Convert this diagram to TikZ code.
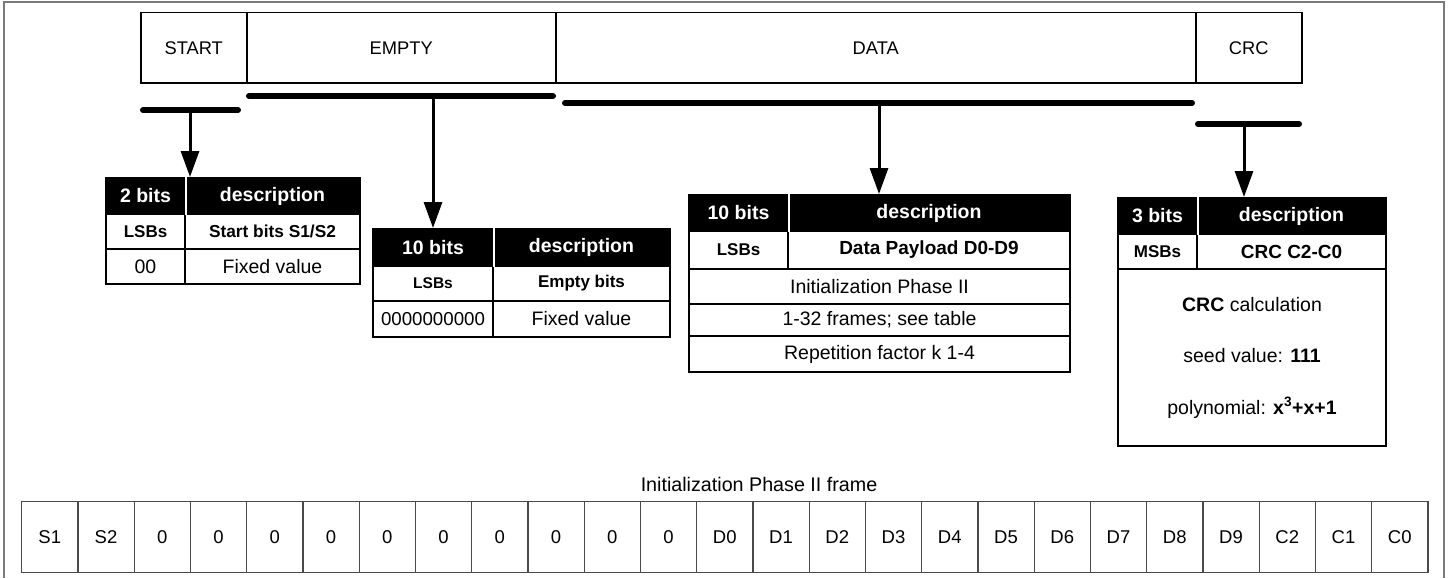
\documentclass[tikz,border=0pt]{standalone}
\usepackage{fontspec}
\setmainfont{Liberation Sans}
\usepackage{tikz}
\usetikzlibrary{arrows.meta}
\definecolor{framegray}{HTML}{7A7A7A}
\definecolor{cellgray}{HTML}{4A4A4A}
\tikzstyle{field}=[draw, line width=1.5pt, minimum height=70pt, inner sep=0pt, anchor=north west, font=\fontsize{18.3}{20}\selectfont]
\tikzstyle{bar}=[line width=6pt, line cap=round]
\tikzstyle{pointer}=[line width=3pt, -{Triangle[length=26pt,width=18pt]}]
\tikzstyle{headcell}=[fill=black, draw=black, text=white, line width=2pt, inner sep=0pt, anchor=north west, font=\fontsize{19.5}{21}\selectfont\bfseries]
\tikzstyle{keycell}=[draw, line width=2pt, inner sep=0pt, anchor=north west, font=\fontsize{17}{19}\selectfont\bfseries]
\tikzstyle{bodycell}=[draw, line width=2pt, inner sep=0pt, anchor=north west, font=\fontsize{19.5}{21}\selectfont]
\tikzstyle{bitcell}=[draw=cellgray, line width=1.3pt, minimum width=56.25pt, minimum height=71pt, inner sep=0pt, anchor=north west, font=\fontsize{18.5}{20}\selectfont]
\tikzstyle{gap}=[white, line width=1.5pt]

\begin{document}
\begin{tikzpicture}[x=1pt,y=-1pt]
	\useasboundingbox (0,0) rectangle (1450,578);
	\draw[framegray, line width=1.5pt] (4,578) -- (4,2) -- (1444,2) -- (1444,578);

	% frame fields
	\node[field, minimum width=106pt] (start) at (140,12) {START};
	\node[field, minimum width=309pt] (empty) at (246,12) {EMPTY};
	\node[field, minimum width=640pt] (data) at (555,12) {DATA};
	\node[field, minimum width=106pt] (crc) at (1195,12) {CRC};

	% brackets
	\draw[bar] (143,110) -- (238,110);
	\draw[bar] (249,96) -- (553,96);
	\draw[bar] (565,103) -- (1192,103);
	\draw[bar] (1198,124) -- (1299,124);
	\coordinate (startbar) at (190,110);
	\coordinate (emptybar) at (433,96);
	\coordinate (databar) at (879,103);
	\coordinate (crcbar) at (1244,124);

	% start bits
	\node[headcell, minimum width=79pt, minimum height=36pt] (sbits) at (105,177) {2 bits};
	\node[headcell, minimum width=175pt, minimum height=36pt] (sdesc) at (184,177) {description};
	\node[keycell, minimum width=79pt, minimum height=35pt] (skey) at (105,213) {LSBs};
	\node[keycell, minimum width=175pt, minimum height=35pt, font=\fontsize{17.3}{19}\selectfont\bfseries] (sname) at (184,213) {Start bits S1/S2};
	\node[bodycell, minimum width=79pt, minimum height=35pt] (sval) at (105,248) {00};
	\node[bodycell, minimum width=175pt, minimum height=35pt] (sinfo) at (184,248) {Fixed value};
	\draw[gap] (sbits.north east) -- (sbits.south east);

	% empty bits
	\node[headcell, minimum width=120pt, minimum height=37pt] (ebits) at (372,228) {10 bits};
	\node[headcell, minimum width=177pt, minimum height=37pt] (edesc) at (492,228) {description};
	\node[keycell, minimum width=120pt, minimum height=35pt, font=\fontsize{15.5}{18}\selectfont\bfseries] (ekey) at (372,265) {LSBs};
	\node[keycell, minimum width=177pt, minimum height=35pt] (ename) at (492,265) {Empty bits};
	\node[bodycell, minimum width=120pt, minimum height=36pt, font=\fontsize{18.7}{20}\selectfont] (eval) at (372,300) {0000000000};
	\node[bodycell, minimum width=177pt, minimum height=36pt] (einfo) at (492,300) {Fixed value};
	\draw[gap] (ebits.north east) -- (ebits.south east);

	% data payload
	\node[headcell, minimum width=99pt, minimum height=36pt] (dbits) at (688,194) {10 bits};
	\node[headcell, minimum width=282pt, minimum height=36pt] (ddesc) at (787,194) {description};
	\node[keycell, minimum width=99pt, minimum height=38pt] (dkey) at (688,230) {LSBs};
	\node[keycell, minimum width=282pt, minimum height=38pt, font=\fontsize{19}{21}\selectfont\bfseries] (dname) at (787,230) {Data Payload D0-D9};
	\node[bodycell, minimum width=381pt, minimum height=35pt] (dphase) at (688,268) {Initialization Phase II};
	\node[bodycell, minimum width=381pt, minimum height=32pt] (dframes) at (688,303) {1-32 frames; see table};
	\node[bodycell, minimum width=381pt, minimum height=36pt] (drep) at (688,335) {Repetition factor k 1-4};
	\draw[gap] (dbits.north east) -- (dbits.south east);

	% crc
	\node[headcell, minimum width=79pt, minimum height=36pt] (cbits) at (1117,197) {3 bits};
	\node[headcell, minimum width=189pt, minimum height=36pt] (cdesc) at (1196,197) {description};
	\node[keycell, minimum width=79pt, minimum height=35pt] (ckey) at (1117,233) {MSBs};
	\node[keycell, minimum width=189pt, minimum height=35pt, font=\fontsize{19}{21}\selectfont\bfseries] (cname) at (1196,233) {CRC C2-C0};
	\node[bodycell, minimum width=268pt, minimum height=177pt, align=center, font=\fontsize{19.5}{51.5}\selectfont] (cbody) at (1117,268) {\textbf{CRC} calculation\\seed value: \textbf{111}\\polynomial: \textbf{x\textsuperscript{3}+x+1}};
	\draw[gap] (cbits.north east) -- (cbits.south east);

	% pointers
	\draw[pointer] (startbar) -- (startbar |- sdesc.north);
	\draw[pointer] (emptybar) -- (emptybar |- ebits.north);
	\draw[pointer] (databar) -- (databar |- ddesc.north);
	\draw[pointer] (crcbar) -- (crcbar |- cdesc.north);

	% frame bits
	\node[font=\fontsize{19.7}{21}\selectfont] (frametitle) at (759,484) {Initialization Phase II frame};
	\foreach \lbl [count=\i from 0] in {S1,S2,0,0,0,0,0,0,0,0,0,0,D0,D1,D2,D3,D4,D5,D6,D7,D8,D9,C2,C1,C0}
		\node[bitcell] (b\i) at ({21+56.25*\i},501) {\lbl};
\end{tikzpicture}
\end{document}
